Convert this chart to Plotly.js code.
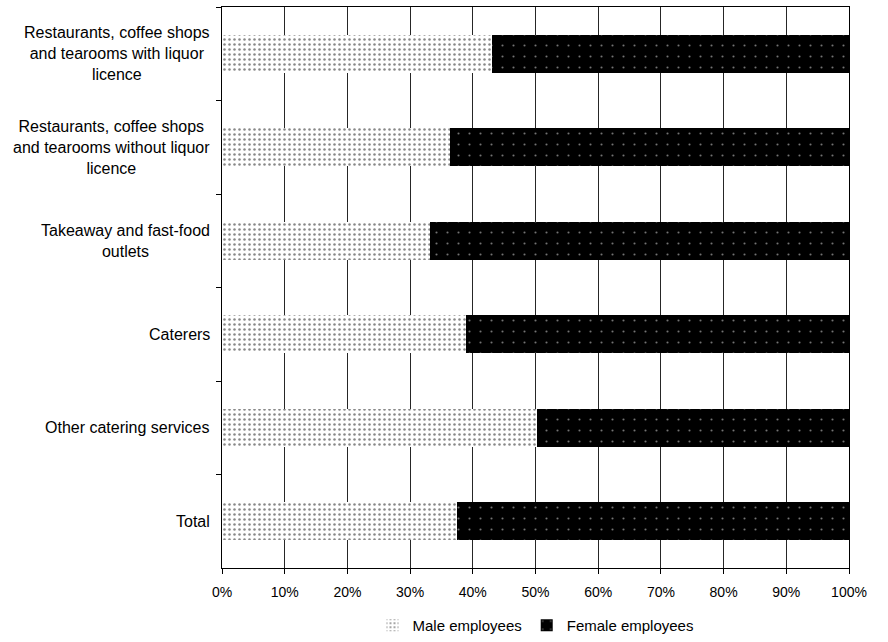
<!DOCTYPE html>
<html>
<head>
<meta charset="utf-8">
<script src="https://cdn.plot.ly/plotly-3.0.1.min.js"></script>
<style>
  html, body { margin: 0; padding: 0; background: #ffffff; }
  #chart { width: 888px; height: 642px; }
</style>
</head>
<body>
<div id="chart"></div>
<script>
// Catering sector: share of male and female employees by branch (%)
const categories = [
  "Restaurants with liquor licence",
  "Restaurants without liquor licence",
  "Takeaway and fast-food outlets",
  "Caterers",
  "Other catering services",
  "Total"
];
const categoryLabels = [
  "Restaurants, coffee shops<br>and tearooms with liquor<br>licence",
  "Restaurants, coffee shops<br>and tearooms without liquor<br>licence",
  "Takeaway and fast-food<br>outlets",
  "Caterers",
  "Other catering services",
  "Total"
];
const maleShare   = [43.0, 36.4, 33.2, 38.9, 50.3, 37.5];
const femaleShare = [57.0, 63.6, 66.8, 61.1, 49.7, 62.5];
const xTickValues = [0, 10, 20, 30, 40, 50, 60, 70, 80, 90, 100];
const xTickLabels = ["0%", "10%", "20%", "30%", "40%", "50%", "60%", "70%", "80%", "90%", "100%"];

const FONT = "Liberation Sans, Arial, Helvetica, sans-serif";

const traces = [
  {
    type: "bar",
    orientation: "h",
    name: "Male employees",
    y: categories,
    x: maleShare,
    marker: {
      color: "#ffffff",
      line: { width: 0 },
      pattern: { shape: ".", fgcolor: "#111111", size: 5, solidity: 0.2, fillmode: "overlay" }
    },
    hoverinfo: "skip"
  },
  {
    type: "bar",
    orientation: "h",
    name: "Female employees",
    y: categories,
    x: femaleShare,
    marker: {
      color: "#000000",
      line: { width: 0 },
      pattern: { shape: ".", fgcolor: "#e6e6e6", size: 11, solidity: 0.03, fillmode: "overlay" }
    },
    hoverinfo: "skip"
  }
];

// Category labels: right-aligned block, lines centred within it
const labelAnnotations = categories.map((c, i) => ({
  xref: "paper", yref: "y",
  x: 0, y: c,
  xanchor: "right", yanchor: "middle",
  xshift: -10,
  align: "center",
  showarrow: false,
  text: categoryLabels[i],
  font: { family: FONT, size: 16, color: "#000000" }
}));

const layout = {
  width: 888,
  height: 642,
  margin: { l: 222, r: 39, t: 7, b: 74 },
  paper_bgcolor: "#ffffff",
  plot_bgcolor: "#ffffff",
  font: { family: FONT, size: 14, color: "#000000" },
  barmode: "stack",
  bargap: 0.59,
  showlegend: true,
  legend: {
    orientation: "h",
    xref: "paper",
    x: 0.5, xanchor: "center",
    yref: "container",
    y: -0.009, yanchor: "bottom",
    itemwidth: 30,
    font: { family: FONT, size: 15, color: "#000000" },
    traceorder: "normal"
  },
  xaxis: {
    range: [0, 100],
    tickvals: xTickValues,
    ticktext: xTickLabels,
    showgrid: true,
    gridcolor: "#262626",
    gridwidth: 1,
    zeroline: false,
    showline: true,
    linecolor: "#000000",
    linewidth: 1,
    mirror: true,
    ticks: "outside",
    ticklen: 5,
    tickcolor: "#000000",
    ticklabelstandoff: 6,
    tickfont: { family: FONT, size: 14, color: "#000000" },
    fixedrange: true
  },
  yaxis: {
    type: "category",
    autorange: "reversed",
    showgrid: false,
    zeroline: false,
    showline: true,
    linecolor: "#000000",
    linewidth: 1,
    mirror: true,
    ticks: "outside",
    tickson: "boundaries",
    ticklen: 5,
    tickcolor: "#000000",
    showticklabels: false,
    fixedrange: true
  },
  annotations: labelAnnotations
};

Plotly.newPlot("chart", traces, layout, { displayModeBar: false, staticPlot: true });
</script>
</body>
</html>
